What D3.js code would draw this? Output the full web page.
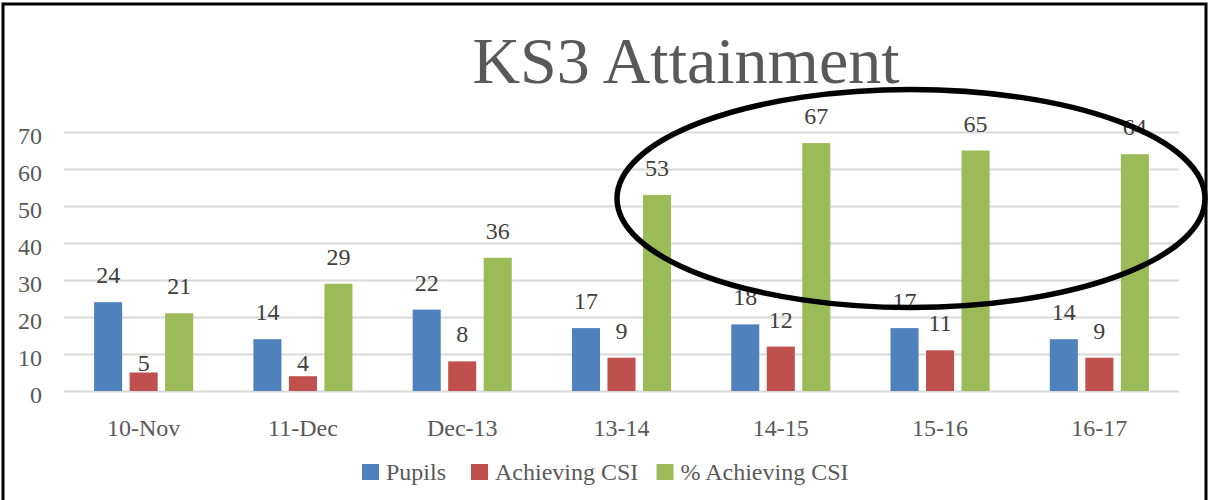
<!DOCTYPE html>
<html lang="en">
<head>
    <meta charset="UTF-8">
    <title>KS3 Attainment</title>
    <script src="https://d3js.org/d3.v7.min.js"></script>
    <style>
        body { margin: 0; background: #fff; }
        svg text { font-family: "Liberation Serif", "Times New Roman", serif; }
        .grid line { stroke: #d9d9d9; stroke-width: 2; }
        .grid path { display: none; }
        .tick-label { fill: #595959; font-size: 24px; }
        .data-label { fill: #404040; font-size: 24px; }
    </style>
</head>
<body>
    <svg width="1208" height="500"></svg>

    <script>
        // Chart data
        const categories = ["10-Nov", "11-Dec", "Dec-13", "13-14", "14-15", "15-16", "16-17"];
        const seriesNames = ["Pupils", "Achieving CSI", "% Achieving CSI"];
        const seriesColors = ["#4f81bd", "#c0504d", "#9bbb59"];
        const pupils = [24, 14, 22, 17, 18, 17, 14];
        const achievingCsi = [5, 4, 8, 9, 12, 11, 9];
        const pctAchievingCsi = [21, 29, 36, 53, 67, 65, 64];
        const yTicks = [0, 10, 20, 30, 40, 50, 60, 70];

        const seriesValues = [pupils, achievingCsi, pctAchievingCsi];

        const svg = d3.select("svg");
        const plot = { left: 64, right: 1179, top: 132, bottom: 391 };

        // outer frame
        svg.append("rect")
            .attr("x", 3).attr("y", 4)
            .attr("width", 1203).attr("height", 510)
            .attr("fill", "none")
            .attr("stroke", "#000")
            .attr("stroke-width", 3);

        // title
        svg.append("text")
            .attr("x", 686).attr("y", 83)
            .attr("text-anchor", "middle")
            .attr("fill", "#595959")
            .style("font-size", "66px")
            .text("KS3 Attainment");

        // scales
        const x0 = d3.scaleBand()
            .domain(categories)
            .range([plot.left, plot.right])
            .paddingInner(0.378)
            .paddingOuter(0.189);

        const x1 = d3.scaleBand()
            .domain(seriesNames)
            .range([0, x0.bandwidth()])
            .paddingInner(0.21);

        const y = d3.scaleLinear().domain([0, 70]).range([plot.bottom, plot.top]);

        // gridlines
        svg.append("g")
            .attr("class", "grid")
            .attr("transform", `translate(${plot.left},0)`)
            .call(d3.axisLeft(y).tickValues(yTicks).tickSize(-(plot.right - plot.left)).tickFormat(""));

        // y tick labels
        svg.append("g").selectAll("text")
            .data(yTicks)
            .join("text")
            .attr("class", "tick-label")
            .attr("x", 42)
            .attr("y", d => y(d) + 12)
            .attr("text-anchor", "end")
            .text(d => d);

        // category labels
        svg.append("g").selectAll("text")
            .data(categories)
            .join("text")
            .attr("class", "tick-label")
            .attr("x", d => x0(d) + x0.bandwidth() / 2)
            .attr("y", 436)
            .attr("text-anchor", "middle")
            .text(d => d);

        // bars
        const rows = [];
        categories.forEach((c, i) => {
            seriesNames.forEach((s, j) => {
                rows.push({ cat: c, series: s, idx: j, value: seriesValues[j][i] });
            });
        });

        svg.append("g").selectAll("rect")
            .data(rows)
            .join("rect")
            .attr("x", d => x0(d.cat) + x1(d.series))
            .attr("y", d => y(d.value))
            .attr("width", x1.bandwidth())
            .attr("height", d => y(0) - y(d.value))
            .attr("fill", d => seriesColors[d.idx]);

        // data labels
        svg.append("g").selectAll("text")
            .data(rows)
            .join("text")
            .attr("class", "data-label")
            .attr("x", d => x0(d.cat) + x1(d.series) + x1.bandwidth() / 2)
            .attr("y", d => d.value < 6 ? y(5.3) : y(d.value) - 19)
            .attr("text-anchor", "middle")
            .text(d => d.value);

        // legend
        const legendX = [362, 471, 656.5];
        const legend = svg.append("g").selectAll("g")
            .data(seriesNames)
            .join("g")
            .attr("transform", (d, i) => `translate(${legendX[i]},464)`);

        legend.append("rect")
            .attr("width", 17).attr("height", 16)
            .attr("fill", (d, i) => seriesColors[i]);

        legend.append("text")
            .attr("class", "tick-label")
            .attr("x", 24).attr("y", 16)
            .text(d => d);

        // hand-drawn highlight ellipse
        svg.append("ellipse")
            .attr("cx", 911).attr("cy", 198.5)
            .attr("rx", 294).attr("ry", 109)
            .attr("fill", "none")
            .attr("stroke", "#000")
            .attr("stroke-width", 5.5);
    </script>
</body>
</html>
